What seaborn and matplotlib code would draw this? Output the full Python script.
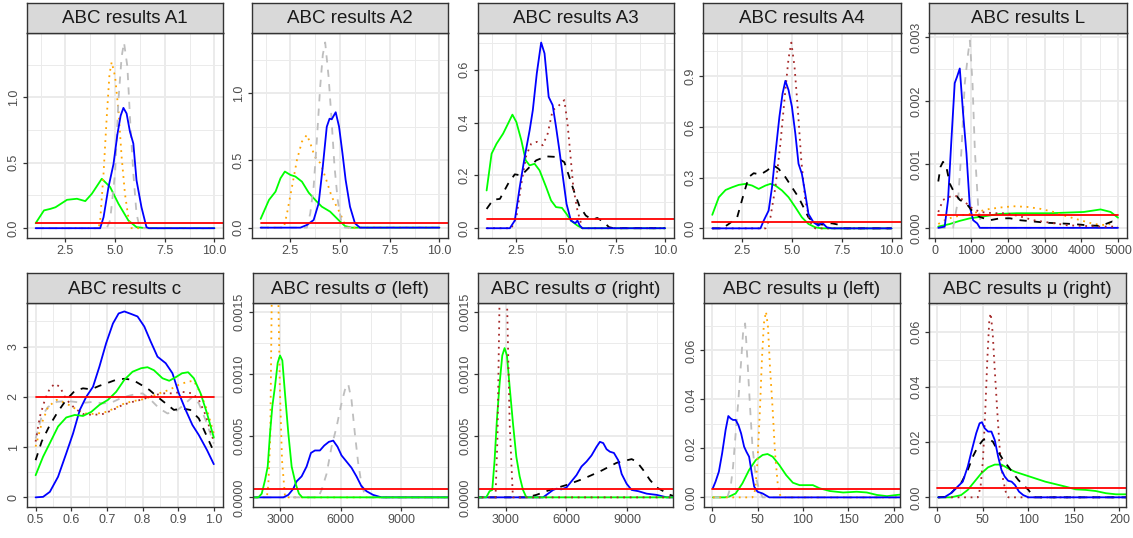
import matplotlib
matplotlib.use("Agg")
import matplotlib.pyplot as plt
import pandas as pd
import seaborn as sns
from matplotlib.ticker import FixedLocator, MultipleLocator, NullFormatter

# ---------------------------------------------------------------------------
# Posterior density curves, one (x, density) list per series and parameter
# ---------------------------------------------------------------------------

# A1
a1_green = [(1.0, 0.038), (1.42, 0.136), (1.75, 0.148), (2.0, 0.16), (2.58, 0.217), (3.08, 0.225),
            (3.5, 0.207), (3.83, 0.263), (4.33, 0.378), (4.75, 0.315), (5.17, 0.187), (5.67, 0.059),
            (6.08, 0.008), (6.58, 0.0), (10.0, 0.0)]
a1_orange = [(1.0, 0.0), (4.17, 0.0), (4.25, 0.06), (4.42, 0.42), (4.58, 0.85), (4.72, 1.18), (4.83, 1.27),
             (5.0, 1.16), (5.17, 0.90), (5.33, 0.545), (5.5, 0.26), (5.67, 0.08), (5.83, 0.0), (10.0, 0.0)]
a1_grey = [(1.0, 0.0), (4.58, 0.0), (4.75, 0.06), (5.0, 0.42), (5.17, 0.98), (5.33, 1.31), (5.45, 1.42),
           (5.62, 1.235), (5.75, 0.85), (5.92, 0.42), (6.08, 0.11), (6.25, 0.0), (10.0, 0.0)]
a1_blue = [(1.0, 0.0), (4.25, 0.0), (4.42, 0.084), (4.67, 0.315), (4.92, 0.49), (5.12, 0.72), (5.28, 0.86),
           (5.42, 0.92), (5.58, 0.877), (5.75, 0.737), (5.92, 0.647), (6.08, 0.366), (6.33, 0.16),
           (6.58, 0.008), (6.7, 0.0), (10.0, 0.0)]
a1_prior = [(1.0, 0.038), (11.0, 0.038)]

# A2
a2_green = [(1.0, 0.065), (1.42, 0.206), (1.75, 0.268), (2.0, 0.367), (2.22, 0.417), (2.5, 0.392),
            (2.75, 0.38), (3.08, 0.342), (3.42, 0.26), (3.75, 0.206), (4.08, 0.156), (4.5, 0.119),
            (4.92, 0.057), (5.25, 0.012), (5.58, 0.0), (10.0, 0.0)]
a2_orange = [(1.0, 0.0), (2.17, 0.0), (2.33, 0.107), (2.58, 0.305), (2.83, 0.504), (3.08, 0.64), (3.33, 0.69),
             (3.5, 0.628), (3.72, 0.53), (4.0, 0.48), (4.25, 0.38), (4.58, 0.23), (4.83, 0.156),
             (5.0, 0.107), (5.25, 0.02), (5.42, 0.0), (10.0, 0.0)]
a2_grey = [(1.0, 0.0), (3.33, 0.0), (3.5, 0.107), (3.67, 0.305), (3.83, 0.65), (4.0, 1.05), (4.13, 1.285),
           (4.25, 1.377), (4.42, 1.124), (4.55, 0.85), (4.72, 0.454), (4.88, 0.206), (5.08, 0.03),
           (5.25, 0.0), (10.0, 0.0)]
a2_blue = [(1.0, 0.0), (3.0, 0.0), (3.33, 0.02), (3.67, 0.057), (3.92, 0.18), (4.13, 0.454), (4.33, 0.75),
           (4.47, 0.81), (4.58, 0.806), (4.78, 0.858), (4.95, 0.75), (5.12, 0.553), (5.28, 0.355),
           (5.5, 0.156), (5.75, 0.032), (6.0, 0.0), (10.0, 0.0)]
a2_prior = [(1.0, 0.037), (11.0, 0.037)]

# A3
a3_green = [(1.0, 0.143), (1.25, 0.282), (1.5, 0.32), (1.83, 0.358), (2.08, 0.396), (2.3, 0.43), (2.5, 0.402),
            (2.75, 0.333), (2.97, 0.257), (3.17, 0.238), (3.42, 0.244), (3.67, 0.219), (4.0, 0.156),
            (4.25, 0.105), (4.5, 0.08), (4.8, 0.077), (5.03, 0.054), (5.25, 0.029), (5.58, 0.01),
            (5.83, 0.0), (10.0, 0.0)]
a3_black = [(1.0, 0.073), (1.33, 0.108), (1.67, 0.111), (2.08, 0.168), (2.42, 0.204), (2.75, 0.2),
            (3.08, 0.225), (3.5, 0.257), (4.0, 0.272), (4.5, 0.27), (4.92, 0.25), (5.17, 0.194),
            (5.42, 0.137), (5.67, 0.086), (6.0, 0.048), (6.33, 0.032), (6.58, 0.039), (6.92, 0.023),
            (7.17, 0.004), (7.42, 0.0), (10.0, 0.0)]
a3_darkred = [(1.0, 0.0), (2.25, 0.0), (2.5, 0.042), (2.75, 0.168), (3.0, 0.276), (3.25, 0.32), (3.53, 0.327),
              (3.83, 0.314), (4.08, 0.358), (4.33, 0.447), (4.58, 0.46), (4.92, 0.485), (5.08, 0.396),
              (5.22, 0.282), (5.37, 0.156), (5.58, 0.067), (5.83, 0.0), (10.0, 0.0)]
a3_blue = [(1.0, 0.0), (2.17, 0.0), (2.42, 0.029), (2.67, 0.156), (2.92, 0.27), (3.17, 0.371), (3.33, 0.447),
           (3.53, 0.586), (3.75, 0.703), (3.92, 0.662), (4.13, 0.497), (4.33, 0.466), (4.5, 0.384),
           (4.67, 0.295), (4.87, 0.181), (5.03, 0.092), (5.25, 0.029), (5.47, 0.019), (5.58, 0.029),
           (5.7, 0.01), (5.83, 0.0), (10.0, 0.0)]
a3_prior = [(1.0, 0.035), (11.0, 0.035)]

# A4
a4_green = [(1.0, 0.08), (1.33, 0.184), (1.67, 0.227), (2.0, 0.243), (2.33, 0.257), (2.67, 0.263), (3.0, 0.253),
            (3.33, 0.233), (3.67, 0.253), (3.92, 0.263), (4.17, 0.253), (4.5, 0.224), (4.83, 0.184),
            (5.17, 0.125), (5.5, 0.065), (5.83, 0.026), (6.17, 0.006), (6.5, 0.0), (10.0, 0.0)]
a4_black = [(1.0, 0.0), (1.5, 0.0), (1.83, 0.026), (2.25, 0.065), (2.58, 0.204), (2.83, 0.303), (3.08, 0.326),
            (3.42, 0.318), (3.75, 0.342), (4.08, 0.372), (4.33, 0.352), (4.67, 0.303), (5.0, 0.243),
            (5.33, 0.184), (5.58, 0.125), (5.83, 0.065), (6.17, 0.026), (6.58, 0.022), (7.0, 0.03),
            (7.33, 0.022), (7.58, 0.0), (10.0, 0.0)]
a4_darkred = [(1.0, 0.0), (3.67, 0.0), (3.92, 0.065), (4.17, 0.243), (4.42, 0.5), (4.67, 0.817), (4.83, 1.005),
              (4.97, 1.098), (5.13, 0.955), (5.3, 0.698), (5.47, 0.401), (5.67, 0.164), (5.92, 0.036),
              (6.17, 0.0), (10.0, 0.0)]
a4_blue = [(1.0, 0.0), (3.42, 0.0), (3.58, 0.045), (3.83, 0.105), (4.0, 0.243), (4.17, 0.441), (4.37, 0.659),
           (4.53, 0.797), (4.67, 0.872), (4.83, 0.817), (5.0, 0.718), (5.17, 0.56), (5.33, 0.382),
           (5.5, 0.322), (5.67, 0.204), (5.83, 0.085), (6.08, 0.036), (6.33, 0.016), (6.5, 0.036),
           (6.75, 0.006), (7.0, 0.0), (10.0, 0.0)]
a4_prior = [(1.0, 0.036), (11.0, 0.036)]

# L
l_blue = [(100, 0.0), (274, 0.00002), (366, 0.00044), (457, 0.00138), (548, 0.00228), (612, 0.00238),
          (686, 0.00251), (777, 0.0018), (868, 0.00117), (960, 0.00033), (1051, 0.00012), (1161, 0.00007),
          (1234, 0.0), (5000, 0.0)]
l_grey = [(100, 0.0), (503, 0.0), (640, 0.00044), (731, 0.00122), (823, 0.00228), (914, 0.00275),
          (960, 0.00295), (1033, 0.00228), (1097, 0.00122), (1188, 0.00033), (1280, 0.0), (5000, 0.0)]
l_black = [(100, 0.00073), (160, 0.00096), (229, 0.00104), (320, 0.00096), (411, 0.0007), (548, 0.00054),
           (686, 0.00044), (868, 0.00038), (1005, 0.00028), (1234, 0.00017), (1508, 0.00012),
           (1782, 0.00015), (2057, 0.00015), (2331, 0.00012), (2697, 0.0001), (3062, 0.00008),
           (3428, 0.00007), (3793, 0.00006), (4159, 0.00004), (4525, 0.00003), (4845, 0.0001),
           (5000, 0.00007)]
l_darkred = [(100, 0.00025), (229, 0.00044), (411, 0.00049), (594, 0.0005), (777, 0.00044), (960, 0.00033),
             (1234, 0.00025), (1600, 0.00023), (1965, 0.00023), (2331, 0.00018), (2697, 0.00012),
             (3154, 0.00008), (3610, 0.00004), (4067, 0.00003), (4525, 0.00002), (5000, 0.00002)]
l_orange = [(100, 0.00006), (274, 0.00012), (503, 0.00017), (777, 0.0002), (1051, 0.00023), (1417, 0.00029),
            (1782, 0.00032), (2148, 0.00034), (2514, 0.00033), (2879, 0.0003), (3245, 0.00025),
            (3610, 0.00018), (3976, 0.00012), (4342, 0.00006), (4707, 0.00004), (4890, 0.0001)]
l_green = [(100, 0.00002), (411, 0.00006), (686, 0.00011), (960, 0.00015), (1325, 0.00018), (1782, 0.00022),
           (2240, 0.00023), (2697, 0.00023), (3154, 0.00023), (3610, 0.00024), (4067, 0.00025),
           (4525, 0.00029), (4799, 0.00025), (5000, 0.00016)]
l_prior = [(100, 0.0002), (5000, 0.0002)]

# c
c_blue = [(0.5, 0.0), (0.521, 0.01), (0.54, 0.11), (0.563, 0.41), (0.586, 0.876), (0.605, 1.27), (0.624, 1.74),
          (0.642, 2.0), (0.661, 2.2), (0.679, 2.6), (0.698, 3.07), (0.717, 3.46), (0.733, 3.66), (0.749, 3.7),
          (0.768, 3.65), (0.786, 3.6), (0.805, 3.4), (0.823, 3.1), (0.842, 2.8), (0.865, 2.67), (0.884, 2.47),
          (0.902, 2.07), (0.921, 1.74), (0.94, 1.44), (0.958, 1.24), (0.981, 0.94), (1.0, 0.66)]
c_green = [(0.5, 0.44), (0.521, 0.81), (0.54, 1.08), (0.563, 1.41), (0.586, 1.59), (0.61, 1.64), (0.633, 1.62),
           (0.656, 1.7), (0.679, 1.84), (0.703, 1.94), (0.726, 2.1), (0.749, 2.34), (0.772, 2.5), (0.796, 2.57),
           (0.814, 2.59), (0.832, 2.53), (0.856, 2.37), (0.875, 2.32), (0.893, 2.39), (0.911, 2.47),
           (0.928, 2.49), (0.944, 2.37), (0.963, 2.07), (0.981, 1.67), (1.0, 1.19)]
c_black = [(0.5, 0.74), (0.517, 1.11), (0.54, 1.44), (0.563, 1.71), (0.586, 1.94), (0.61, 2.12), (0.633, 2.17),
           (0.656, 2.15), (0.679, 2.22), (0.703, 2.28), (0.726, 2.34), (0.749, 2.36), (0.772, 2.34),
           (0.796, 2.24), (0.819, 2.14), (0.842, 2.0), (0.865, 1.87), (0.888, 1.74), (0.911, 1.77),
           (0.934, 1.74), (0.958, 1.57), (0.977, 1.27), (1.0, 0.91)]
c_grey = [(0.5, 1.17), (0.517, 1.61), (0.535, 1.8), (0.559, 1.9), (0.586, 1.92), (0.61, 1.9), (0.633, 1.88),
          (0.661, 1.9), (0.689, 1.87), (0.717, 1.9), (0.744, 1.99), (0.772, 2.04), (0.8, 2.07), (0.823, 1.94),
          (0.847, 1.77), (0.87, 1.67), (0.893, 1.71), (0.916, 1.84), (0.94, 2.0), (0.958, 1.87),
          (0.977, 1.54), (1.0, 1.07)]
c_darkred = [(0.5, 1.11), (0.512, 1.61), (0.526, 1.94), (0.54, 2.17), (0.554, 2.26), (0.568, 2.2), (0.586, 1.95),
             (0.61, 1.77), (0.633, 1.66), (0.661, 1.64), (0.689, 1.66), (0.717, 1.74), (0.744, 1.84),
             (0.772, 1.9), (0.8, 1.95), (0.828, 2.02), (0.856, 2.07), (0.884, 2.07), (0.911, 2.1),
             (0.94, 2.07), (0.958, 1.94), (0.977, 1.64), (1.0, 1.11)]
c_orange = [(0.5, 1.01), (0.517, 1.47), (0.535, 1.8), (0.559, 1.94), (0.586, 1.87), (0.61, 1.77), (0.637, 1.67),
            (0.665, 1.66), (0.693, 1.69), (0.721, 1.77), (0.749, 1.87), (0.777, 1.92), (0.8, 1.95),
            (0.823, 2.0), (0.847, 2.07), (0.875, 2.14), (0.902, 2.24), (0.926, 2.3), (0.944, 2.32),
            (0.963, 2.07), (0.981, 1.74), (1.0, 1.27)]
c_prior = [(0.5, 2.0), (1.0, 2.0)]

# sigma (left)
sl_green = [(1500, 0.0), (1931, 0.0), (2096, 0.00003), (2260, 0.00014), (2392, 0.00025), (2507, 0.00052),
            (2622, 0.00074), (2753, 0.0009), (2885, 0.00109), (3000, 0.00115), (3115, 0.00111),
            (3247, 0.00084), (3411, 0.00052), (3575, 0.00025), (3773, 0.00011), (3937, 0.00003),
            (4101, 0.0), (11500, 0.0)]
sl_orange = [(1500, 0.0), (2350, 0.0), (2420, 0.0001), (2520, 0.0005), (2590, 0.0016), (2650, 0.0026),
             (2750, 0.003), (2850, 0.0026), (2920, 0.0016), (2990, 0.0009), (3100, 0.0003), (3250, 0.0),
             (11500, 0.0)]
sl_grey = [(1500, 0.0), (4890, 0.0), (5055, 0.00006), (5301, 0.00019), (5548, 0.00041), (5795, 0.00057),
           (6008, 0.00074), (6206, 0.00087), (6370, 0.00092), (6534, 0.00079), (6699, 0.00052),
           (6863, 0.00028), (7027, 0.00011), (7192, 0.00002), (7350, 0.0), (11500, 0.0)]
sl_blue = [(1500, 0.0), (3164, 0.0), (3411, 0.00002), (3658, 0.00007), (3822, 0.00013), (4068, 0.00017),
           (4315, 0.00025), (4529, 0.00036), (4726, 0.00038), (4973, 0.00038), (5186, 0.00042),
           (5416, 0.00045), (5630, 0.00046), (5844, 0.00041), (6041, 0.00034), (6288, 0.00029),
           (6534, 0.00024), (6781, 0.00017), (7027, 0.00009), (7274, 0.00005), (7603, 0.00002),
           (8014, 0.0), (11500, 0.0)]
sl_prior = [(1500, 0.000065), (11500, 0.000065)]

# sigma (right)
sr_green = [(1500, 0.0), (2041, 0.0), (2207, 0.00005), (2339, 0.00006), (2455, 0.0003), (2570, 0.00063),
            (2702, 0.00092), (2835, 0.00115), (2950, 0.00121), (3066, 0.00115), (3198, 0.0009),
            (3364, 0.0006), (3529, 0.00033), (3694, 0.00017), (3860, 0.00006), (4025, 0.0), (11500, 0.0)]
sr_darkred = [(1500, 0.0), (2500, 0.0), (2600, 0.0005), (2700, 0.0016), (2780, 0.0026), (2880, 0.003),
              (2980, 0.0026), (3070, 0.0016), (3200, 0.0006), (3360, 0.0), (11500, 0.0)]
sr_blue = [(1500, 0.0), (4851, 0.0), (5099, 0.00003), (5347, 0.00006), (5512, 0.00007), (5760, 0.000065),
           (6008, 0.00008), (6256, 0.00013), (6504, 0.00018), (6752, 0.00025), (7000, 0.00029),
           (7248, 0.00034), (7496, 0.00041), (7661, 0.00045), (7826, 0.00044), (7992, 0.00039),
           (8157, 0.00037), (8355, 0.00036), (8570, 0.0003), (8736, 0.00019), (8983, 0.00011),
           (9231, 0.00006), (9562, 0.00005), (9975, 0.00003), (10471, 0.00002), (10967, 0.0), (11500, 0.0)]
sr_black = [(1500, 0.0), (4025, 0.0), (4521, 0.00002), (5182, 0.00006), (6008, 0.0001), (6835, 0.00015),
            (7661, 0.00021), (8488, 0.00028), (8983, 0.0003), (9231, 0.00031), (9479, 0.00029),
            (9810, 0.00022), (10140, 0.00014), (10471, 0.00008), (10802, 0.00005), (11132, 0.00002),
            (11500, 0.0)]
sr_prior = [(1500, 0.000065), (11500, 0.000065)]

# mu (left)
ml_blue = [(0.7, 0.0037), (3.7, 0.0064), (7.4, 0.0105), (11.0, 0.018), (14.8, 0.0275), (17.8, 0.0332),
           (20.4, 0.0322), (23.0, 0.0316), (25.9, 0.0316), (28.9, 0.0295), (31.9, 0.0261), (35.2, 0.0207),
           (37.8, 0.0186), (40.7, 0.0166), (43.7, 0.0098), (46.3, 0.0044), (50.0, 0.0023), (55.6, 0.0016),
           (63.0, 0.0), (210.0, 0.0)]
ml_grey = [(0.7, 0.0), (16.7, 0.0), (20.4, 0.0044), (23.0, 0.0125), (25.9, 0.0261), (28.9, 0.0397),
           (31.5, 0.0533), (34.0, 0.0669), (36.3, 0.071), (38.9, 0.056), (41.5, 0.0384), (44.4, 0.0207),
           (48.0, 0.0084), (51.9, 0.003), (55.6, 0.0), (210.0, 0.0)]
ml_orange = [(0.7, 0.0), (44.4, 0.0), (47.4, 0.003), (50.0, 0.0152), (52.6, 0.0356), (54.8, 0.056),
             (57.0, 0.071), (59.3, 0.0758), (61.5, 0.0697), (63.7, 0.0533), (66.7, 0.0356), (69.3, 0.018),
             (72.2, 0.0057), (74.8, 0.001), (77.0, 0.0), (210.0, 0.0)]
ml_green = [(0.7, 0.0), (14.0, 0.0), (18.5, 0.0003), (25.9, 0.0016), (33.3, 0.0057), (40.7, 0.0112),
            (48.0, 0.0152), (55.6, 0.0173), (61.0, 0.0177), (66.7, 0.0166), (74.0, 0.0132), (81.5, 0.0091),
            (88.9, 0.006), (96.3, 0.005), (103.7, 0.005), (111.0, 0.005), (118.5, 0.0037), (129.6, 0.0026),
            (144.4, 0.002), (159.3, 0.0023), (170.4, 0.002), (181.5, 0.001), (192.6, 0.0005), (203.7, 0.001),
            (210.0, 0.0012)]
ml_prior = [(0.0, 0.0033), (210.0, 0.0033)]

# mu (right)
mr_blue = [(0.7, 0.0), (7.4, 0.0), (14.8, 0.0015), (22.2, 0.0039), (27.8, 0.0057), (33.3, 0.0112),
           (37.8, 0.0172), (42.6, 0.0233), (46.3, 0.0269), (48.9, 0.0273), (51.9, 0.0251), (55.6, 0.0239),
           (59.3, 0.0239), (63.0, 0.0208), (66.7, 0.0148), (70.4, 0.0099), (74.0, 0.0075), (77.8, 0.006),
           (81.5, 0.0057), (85.2, 0.0045), (89.6, 0.0021), (94.4, 0.0008), (100.0, 0.0), (210.0, 0.0)]
mr_black = [(0.7, 0.0), (11.1, 0.0002), (18.5, 0.0027), (25.9, 0.0051), (33.3, 0.0099), (38.9, 0.0148),
            (44.4, 0.0184), (50.0, 0.0208), (55.6, 0.0215), (61.0, 0.0202), (66.7, 0.0166), (72.2, 0.0136),
            (77.8, 0.0112), (83.3, 0.0087), (88.9, 0.0063), (94.4, 0.0045), (100.0, 0.0027), (105.6, 0.0002),
            (108.0, 0.0), (210.0, 0.0)]
mr_darkred = [(0.7, 0.0), (44.4, 0.0), (47.4, 0.0039), (50.0, 0.0136), (52.6, 0.0318), (54.8, 0.05),
              (57.0, 0.0645), (58.5, 0.0669), (60.7, 0.0597), (63.0, 0.0463), (65.9, 0.0305), (68.5, 0.0172),
              (72.2, 0.0063), (75.9, 0.0008), (78.0, 0.0), (210.0, 0.0)]
mr_green = [(0.7, 0.0), (14.8, 0.0), (25.9, 0.0008), (33.3, 0.0027), (40.7, 0.0057), (48.1, 0.0087),
            (55.6, 0.0109), (63.0, 0.0119), (70.4, 0.0119), (77.8, 0.0105), (85.2, 0.0093), (96.3, 0.0081),
            (107.4, 0.0069), (118.5, 0.0057), (129.6, 0.0048), (140.7, 0.0039), (151.9, 0.0029),
            (163.0, 0.0027), (174.0, 0.0023), (185.2, 0.0015), (196.3, 0.0011), (210.0, 0.0011)]
mr_prior = [(0.0, 0.0033), (210.0, 0.0033)]

# Axis breaks and labels per facet
titles = ["ABC results A1", "ABC results A2", "ABC results A3", "ABC results A4", "ABC results L",
          "ABC results c", "ABC results σ (left)", "ABC results σ (right)",
          "ABC results μ (left)", "ABC results μ (right)"]
a_xticks = [2.5, 5.0, 7.5, 10.0]
a_xlabels = ["2.5", "5.0", "7.5", "10.0"]
l_xticks = [0, 1000, 2000, 3000, 4000, 5000]
c_xticks = [0.5, 0.6, 0.7, 0.8, 0.9, 1.0]
s_xticks = [3000, 6000, 9000]
m_xticks = [0, 50, 100, 150, 200]

# ---------------------------------------------------------------------------
# Styling
# ---------------------------------------------------------------------------
sns.set_theme(style="white")
plt.rcParams["font.family"] = ["Liberation Sans", "DejaVu Sans"]

GREEN, ORANGE, GREY, BLUE, BLACK, DARKRED, RED = (
    "#00FF00", "#FFA500", "#BEBEBE", "#0000FF", "#000000", "#A52A2A", "#FF0000")
SOLID, DOT, DASH = "-", (0, (1, 2.6)), (0, (4, 4))
LW = 1.3

W, H = 1133, 538
fig = plt.figure(figsize=(W / 100, H / 100), dpi=100)
fig.patch.set_facecolor("white")


def px_axes(left, top, right, bottom):
    return fig.add_axes([left / W, 1 - bottom / H, (right - left) / W, (bottom - top) / H])


def draw_curve(ax, pts, color, style):
    df = pd.DataFrame(pts, columns=["x", "y"])
    sns.lineplot(data=df, x="x", y="y", ax=ax, color=color, linestyle=style, linewidth=LW,
                 estimator=None, sort=False, legend=False)


panels = [
    dict(curves=[(a1_green, GREEN, SOLID), (a1_orange, ORANGE, DOT), (a1_grey, GREY, DASH),
                 (a1_blue, BLUE, SOLID), (a1_prior, RED, SOLID)],
         xlim=(0.55, 10.45), ylim=(-0.075, 1.49), xticks=a_xticks, xlabels=a_xlabels, xminor=1.25,
         yticks=[0, 0.5, 1.0], ylabels=["0.0", "0.5", "1.0"], yminor=0.25),
    dict(curves=[(a2_green, GREEN, SOLID), (a2_orange, ORANGE, DOT), (a2_grey, GREY, DASH),
                 (a2_blue, BLUE, SOLID), (a2_prior, RED, SOLID)],
         xlim=(0.55, 10.45), ylim=(-0.077, 1.445), xticks=a_xticks, xlabels=a_xlabels, xminor=1.25,
         yticks=[0, 0.5, 1.0], ylabels=["0.0", "0.5", "1.0"], yminor=0.25),
    dict(curves=[(a3_green, GREEN, SOLID), (a3_black, BLACK, DASH), (a3_darkred, DARKRED, DOT),
                 (a3_blue, BLUE, SOLID), (a3_prior, RED, SOLID)],
         xlim=(0.55, 10.45), ylim=(-0.037, 0.738), xticks=a_xticks, xlabels=a_xlabels, xminor=1.25,
         yticks=[0, 0.2, 0.4, 0.6], ylabels=["0.0", "0.2", "0.4", "0.6"], yminor=0.1),
    dict(curves=[(a4_green, GREEN, SOLID), (a4_black, BLACK, DASH), (a4_darkred, DARKRED, DOT),
                 (a4_blue, BLUE, SOLID), (a4_prior, RED, SOLID)],
         xlim=(0.55, 10.45), ylim=(-0.057, 1.153), xticks=a_xticks, xlabels=a_xlabels, xminor=1.25,
         yticks=[0, 0.3, 0.6, 0.9], ylabels=["0.0", "0.3", "0.6", "0.9"], yminor=0.15),
    dict(curves=[(l_green, GREEN, SOLID), (l_orange, ORANGE, DOT), (l_grey, GREY, DASH),
                 (l_blue, BLUE, SOLID), (l_black, BLACK, DASH), (l_darkred, DARKRED, DOT),
                 (l_prior, RED, SOLID)],
         xlim=(-145, 5245), ylim=(-0.00016, 0.003064), xticks=l_xticks,
         xlabels=[str(v) for v in l_xticks], xminor=500,
         yticks=[0, 0.001, 0.002, 0.003], ylabels=["0.000", "0.001", "0.002", "0.003"], yminor=0.0005),
    dict(curves=[(c_grey, GREY, DASH), (c_orange, ORANGE, DOT), (c_darkred, DARKRED, DOT),
                 (c_black, BLACK, DASH), (c_blue, BLUE, SOLID), (c_green, GREEN, SOLID),
                 (c_prior, RED, SOLID)],
         xlim=(0.475, 1.025), ylim=(-0.186, 3.862), xticks=c_xticks,
         xlabels=["0.5", "0.6", "0.7", "0.8", "0.9", "1.0"], xminor=0.05,
         yticks=[0, 1, 2, 3], ylabels=["0", "1", "2", "3"], yminor=0.5),
    dict(curves=[(sl_orange, ORANGE, DOT), (sl_grey, GREY, DASH), (sl_blue, BLUE, SOLID),
                 (sl_green, GREEN, SOLID), (sl_prior, RED, SOLID)],
         xlim=(1650, 11290), ylim=(-0.0000757, 0.001573), xticks=s_xticks,
         xlabels=[str(v) for v in s_xticks], xminor=1500,
         yticks=[0, 0.0005, 0.001, 0.0015], ylabels=["0.0000", "0.0005", "0.0010", "0.0015"],
         yminor=0.00025),
    dict(curves=[(sr_black, BLACK, DASH), (sr_blue, BLUE, SOLID), (sr_green, GREEN, SOLID),
                 (sr_darkred, DARKRED, DOT), (sr_prior, RED, SOLID)],
         xlim=(1650, 11290), ylim=(-0.0000757, 0.001573), xticks=s_xticks,
         xlabels=[str(v) for v in s_xticks], xminor=1500,
         yticks=[0, 0.0005, 0.001, 0.0015], ylabels=["0.0000", "0.0005", "0.0010", "0.0015"],
         yminor=0.00025),
    dict(curves=[(ml_green, GREEN, SOLID), (ml_grey, GREY, DASH), (ml_orange, ORANGE, DOT),
                 (ml_blue, BLUE, SOLID), (ml_prior, RED, SOLID)],
         xlim=(-9, 207), ylim=(-0.0038, 0.0792), xticks=m_xticks,
         xlabels=[str(v) for v in m_xticks], xminor=25,
         yticks=[0, 0.02, 0.04, 0.06], ylabels=["0.00", "0.02", "0.04", "0.06"], yminor=0.01),
    dict(curves=[(mr_green, GREEN, SOLID), (mr_darkred, DARKRED, DOT), (mr_black, BLACK, DASH),
                 (mr_blue, BLUE, SOLID), (mr_prior, RED, SOLID)],
         xlim=(-9, 207), ylim=(-0.0034, 0.0705), xticks=m_xticks,
         xlabels=[str(v) for v in m_xticks], xminor=25,
         yticks=[0, 0.02, 0.04, 0.06], ylabels=["0.00", "0.02", "0.04", "0.06"], yminor=0.01),
]

# Panel boxes in pixels: (left, right); rows share strip/plot heights
row_boxes = [
    [(26.7, 223.3), (251.7, 448.3), (477.7, 674.0), (703.3, 900.5), (929.3, 1127.0)],
    [(26.7, 222.7), (252.7, 447.7), (478.3, 673.3), (704.0, 900.0), (929.3, 1125.7)],
]
row_vert = [(2.7, 33.3, 238.0), (273.3, 303.3, 506.7)]  # strip top, plot top, plot bottom

BORDER = "#333333"
for i, spec in enumerate(panels):
    r, c = divmod(i, 5)
    left, right = row_boxes[r][c]
    s_top, p_top, p_bot = row_vert[r]

    ax = px_axes(left, p_top, right, p_bot)
    ax.set_facecolor("white")
    for crv, color, style in spec["curves"]:
        draw_curve(ax, crv, color, style)

    ax.set_xlim(*spec["xlim"])
    ax.set_ylim(*spec["ylim"])
    ax.xaxis.set_major_locator(FixedLocator(spec["xticks"]))
    ax.set_xticklabels(spec["xlabels"])
    ax.yaxis.set_major_locator(FixedLocator(spec["yticks"]))
    ax.set_yticklabels(spec["ylabels"])
    ax.xaxis.set_minor_locator(MultipleLocator(spec["xminor"]))
    ax.yaxis.set_minor_locator(MultipleLocator(spec["yminor"]))
    ax.xaxis.set_minor_formatter(NullFormatter())
    ax.yaxis.set_minor_formatter(NullFormatter())
    ax.set_xlabel("")
    ax.set_ylabel("")

    ax.grid(True, which="major", color="#EBEBEB", linewidth=1.4)
    ax.grid(True, which="minor", color="#EBEBEB", linewidth=0.7)
    ax.set_axisbelow(True)
    for sp in ax.spines.values():
        sp.set_color(BORDER)
        sp.set_linewidth(1.0)
        sp.set_visible(True)
    ax.tick_params(which="major", direction="out", length=3, width=0.9, color=BORDER,
                   labelsize=9, labelcolor="#4D4D4D", pad=2, bottom=True, left=True)
    ax.tick_params(which="minor", length=0)
    ax.tick_params(axis="y", labelrotation=90)
    for lab in ax.get_yticklabels():
        lab.set_va("center")

    # facet strip
    sax = px_axes(left, s_top, right, p_top)
    sax.set_facecolor("#D9D9D9")
    sax.set_xticks([])
    sax.set_yticks([])
    for sp in sax.spines.values():
        sp.set_color(BORDER)
        sp.set_linewidth(1.0)
        sp.set_visible(True)
    sax.text(0.5, 0.47, titles[i], ha="center", va="center", fontsize=13.5, color="#1A1A1A",
             transform=sax.transAxes)

fig.savefig("out.png", dpi=100, facecolor="white")
